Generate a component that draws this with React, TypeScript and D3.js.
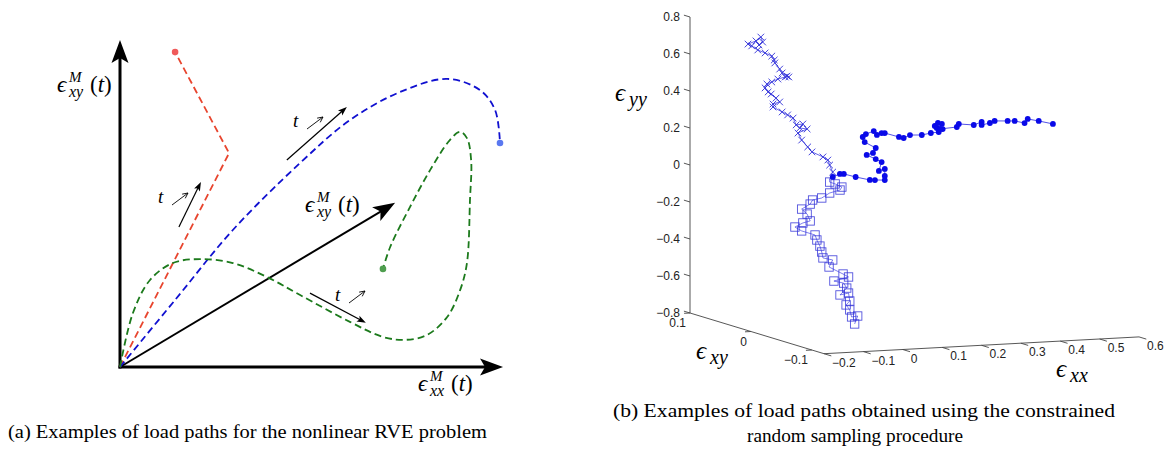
import React from "react";
import * as d3 from "d3";

// ---------- Panel (a): schematic load paths (normalized strain units) ----------
const redPath: [number, number][] = [[0, 0], [0.287, 0.654], [0.145, 0.963]];
const bluePath: [number, number][] = [
  [0, 0], [0.145, 0.205], [0.297, 0.419], [0.474, 0.624], [0.605, 0.755],
  [0.737, 0.841], [0.861, 0.881], [0.947, 0.847], [0.987, 0.786], [1.0, 0.685],
];
const greenPath: [number, number][] = [
  [0, 0], [0.034, 0.165], [0.079, 0.266], [0.139, 0.318], [0.211, 0.33], [0.297, 0.318],
  [0.387, 0.275], [0.474, 0.22], [0.605, 0.138], [0.692, 0.092], [0.75, 0.083],
  [0.808, 0.098], [0.861, 0.153], [0.895, 0.235], [0.913, 0.318], [0.921, 0.511],
  [0.924, 0.633], [0.913, 0.7], [0.895, 0.719], [0.868, 0.694], [0.816, 0.602],
  [0.763, 0.489], [0.711, 0.367], [0.692, 0.3],
];
const timeArrowFrom: [number, number][] = [[0.155, 0.428], [0.439, 0.633], [0.5, 0.226]];
const timeArrowTo: [number, number][] = [[0.213, 0.566], [0.597, 0.795], [0.647, 0.135]];
const axisTipX: [number, number] = [1.008, 0];
const axisTipY: [number, number] = [0, 1];
const axisTipD: [number, number] = [0.724, 0.502];

// ---------- Panel (b): sampled load paths [eps_xx, eps_xy, eps_yy] ----------
const dotPath: [number, number, number][] = [
  [0, 0, 0], [0.008, 0, 0.012], [0.026, 0, 0.026], [0.036, 0, 0.025], [0.066, 0, 0.005],
  [0.102, 0, -0.015], [0.115, 0, -0.017], [0.14, 0, -0.02], [0.14, 0, 0.002], [0.14, 0, 0.04],
  [0.125, 0, 0.031], [0.132, 0, 0.078], [0.117, 0, 0.096], [0.094, 0, 0.121], [0.11, 0, 0.13],
  [0.117, 0, 0.156], [0.089, 0, 0.191], [0.084, 0, 0.219], [0.092, 0, 0.234], [0.112, 0, 0.248],
  [0.12, 0, 0.226], [0.132, 0, 0.235], [0.14, 0, 0.234], [0.176, 0, 0.209], [0.188, 0, 0.202],
  [0.204, 0, 0.216], [0.234, 0, 0.213], [0.257, 0, 0.221], [0.277, 0, 0.224], [0.287, 0, 0.239],
  [0.272, 0, 0.246], [0.267, 0, 0.258], [0.275, 0, 0.273], [0.285, 0, 0.267], [0.28, 0, 0.24],
  [0.323, 0, 0.246], [0.328, 0, 0.262], [0.366, 0, 0.252], [0.386, 0, 0.266], [0.386, 0, 0.25],
  [0.407, 0, 0.258], [0.419, 0, 0.268], [0.452, 0, 0.264], [0.47, 0, 0.262], [0.495, 0, 0.248],
  [0.503, 0, 0.269], [0.531, 0, 0.255], [0.567, 0, 0.235],
];
const crossPath: [number, number, number][] = [
  [0, 0, 0], [0, -0.005, 0.044], [0, 0.0, 0.077], [0, 0.003, 0.101], [0, 0.011, 0.11],
  [0, 0.029, 0.119], [0, 0.036, 0.139], [0, 0.046, 0.166], [0, 0.052, 0.198], [0, 0.037, 0.235],
  [0, 0.049, 0.228], [0, 0.044, 0.255], [0, 0.055, 0.239], [0, 0.06, 0.271], [0, 0.069, 0.279],
  [0, 0.078, 0.286], [0, 0.093, 0.298], [0, 0.093, 0.314], [0, 0.082, 0.336], [0, 0.088, 0.351],
  [0, 0.096, 0.365], [0, 0.101, 0.371], [0, 0.106, 0.388], [0, 0.103, 0.412], [0, 0.095, 0.431],
  [0, 0.085, 0.457], [0, 0.073, 0.48], [0, 0.067, 0.486], [0, 0.07, 0.488], [0, 0.078, 0.497],
  [0, 0.082, 0.514], [0, 0.09, 0.539], [0, 0.091, 0.554], [0, 0.095, 0.571], [0, 0.106, 0.577],
  [0, 0.118, 0.581], [0, 0.128, 0.593], [0, 0.134, 0.597], [0, 0.121, 0.627], [0, 0.113, 0.656],
  [0, 0.11, 0.632], [0, 0.116, 0.61],
];
const squarePath: [number, number, number][] = [
  [0, 0, 0], [0, 0.0, -0.015], [0, -0.009, -0.016], [0, -0.02, -0.022], [0, -0.017, -0.041],
  [0, 0.0, -0.074], [0, 0.013, -0.114], [0, 0.028, -0.14], [0, 0.032, -0.166], [0, 0.046, -0.207],
  [0, 0.037, -0.225], [0, 0.032, -0.257], [0, 0.044, -0.28], [0, 0.057, -0.315], [0, 0.046, -0.325],
  [0, 0.024, -0.325], [0, 0.021, -0.349], [0, 0.016, -0.377], [0, 0.013, -0.406], [0, 0.011, -0.436],
  [0, -0.005, -0.431], [0, 0.001, -0.475], [0, -0.022, -0.49], [0, -0.031, -0.497], [0, -0.007, -0.543],
  [0, -0.023, -0.538], [0, -0.028, -0.56], [0, -0.017, -0.608], [0, -0.031, -0.584], [0, -0.033, -0.625],
  [0, -0.027, -0.652], [0, -0.033, -0.673], [0, -0.036, -0.708], [0, -0.046, -0.693], [0, -0.041, -0.741],
];
const yyTicks = [-0.8, -0.6, -0.4, -0.2, 0, 0.2, 0.4, 0.6, 0.8];
const xyTicks = [-0.1, 0, 0.1];
const xxTicks = [-0.2, -0.1, 0, 0.1, 0.2, 0.3, 0.4, 0.5, 0.6];
const XX_DOMAIN: [number, number] = [-0.2, 0.6];
const XY_DOMAIN: [number, number] = [0.1, -0.12];
const YY_DOMAIN: [number, number] = [-0.8, 0.8];

// ---------- scales ----------
const lx = d3.scaleLinear().domain([0, 1]).range([120, 500]);
const ly = d3.scaleLinear().domain([0, 1]).range([367, 40]);

const zY = d3.scaleLinear().domain(YY_DOMAIN).range([313, 17]);
const xxSX = d3.scaleLinear().domain(XX_DOMAIN).range([0, 315]);
const xxSY = d3.scaleLinear().domain(XX_DOMAIN).range([0, -16.8]);
const xySX = d3.scaleLinear().domain(XY_DOMAIN).range([0, 134]);
const xySY = d3.scaleLinear().domain(XY_DOMAIN).range([0, 40.7]);
const BACK_X = 690;
const P = (xx: number, xy: number, yy: number): [number, number] => [
  BACK_X + xxSX(xx) + xySX(xy),
  zY(yy) + xxSY(xx) + xySY(xy),
];

const serif = "'Liberation Serif', 'DejaVu Serif', serif";
const sans = "'Liberation Sans', Arial, sans-serif";

function headPath(tip: [number, number], from: [number, number], len: number, hw: number, notch: number) {
  const dx = tip[0] - from[0], dy = tip[1] - from[1];
  const L = Math.hypot(dx, dy);
  const ux = dx / L, uy = dy / L;
  const px = -uy, py = ux;
  const bx = tip[0] - len * ux, by = tip[1] - len * uy;
  const nx = tip[0] - (len - notch) * ux, ny = tip[1] - (len - notch) * uy;
  return `M${tip[0]},${tip[1]}L${bx + hw * px},${by + hw * py}L${nx},${ny}L${bx - hw * px},${by - hw * py}Z`;
}
function shorten(tip: [number, number], from: [number, number], d: number): [number, number] {
  const dx = tip[0] - from[0], dy = tip[1] - from[1];
  const L = Math.hypot(dx, dy);
  return [tip[0] - (dx / L) * d, tip[1] - (dy / L) * d];
}

const fmt = (v: number) => (Math.abs(v) < 1e-9 ? "0" : (v < 0 ? "\u2212" : "") + Math.abs(v).toFixed(1));

function EpsLabel({ x, y, sub }: { x: number; y: number; sub: string }) {
  return (
    <g fontFamily={serif} fill="#000">
      <text x={x} y={y} fontSize={23} fontStyle="italic">ϵ</text>
      <text x={x + 12} y={y - 10} fontSize={15} fontStyle="italic">M</text>
      <text x={x + 12} y={y + 5} fontSize={16} fontStyle="italic">{sub}</text>
      <text x={x + 33} y={y} fontSize={23}>(<tspan fontStyle="italic">t</tspan>)</text>
    </g>
  );
}

function TLabel({ x, y }: { x: number; y: number }) {
  const ax = x + 14, ay = y + 2, bx = x + 30, by = y - 10;
  const ang = Math.atan2(by - ay, bx - ax);
  const h1 = [bx - 6 * Math.cos(ang - 0.45), by - 6 * Math.sin(ang - 0.45)];
  const h2 = [bx - 6 * Math.cos(ang + 0.45), by - 6 * Math.sin(ang + 0.45)];
  return (
    <g>
      <text x={x} y={y} fontFamily={serif} fontStyle="italic" fontSize={19}>t</text>
      <path d={`M${ax},${ay}L${bx},${by}M${h1[0]},${h1[1]}L${bx},${by}L${h2[0]},${h2[1]}`} stroke="#000" strokeWidth={0.9} fill="none" />
    </g>
  );
}

function PanelA() {
  const curve = d3.line<[number, number]>().x((d) => lx(d[0])).y((d) => ly(d[1])).curve(d3.curveCatmullRom.alpha(0.5));
  const straight = d3.line<[number, number]>().x((d) => lx(d[0])).y((d) => ly(d[1]));
  const o: [number, number] = [lx(0), ly(0)];
  const tx: [number, number] = [lx(axisTipX[0]), ly(axisTipX[1])];
  const ty: [number, number] = [lx(axisTipY[0]), ly(axisTipY[1])];
  const td: [number, number] = [lx(axisTipD[0]), ly(axisTipD[1])];
  const dash = "7,4";
  const last = (a: [number, number][]) => a[a.length - 1];
  const tLabels: [number, number][] = [[158, 203], [293, 127], [335, 301]];
  return (
    <g>
      {/* axes */}
      <line x1={o[0]} y1={o[1] + 1.5} x2={ty[0]} y2={shorten(ty, o, 16)[1]} stroke="#000" strokeWidth={3} />
      <path d={headPath(ty, o, 23, 8.5, 5)} fill="#000" />
      <line x1={o[0] - 1.5} y1={o[1]} x2={shorten(tx, o, 16)[0]} y2={o[1]} stroke="#000" strokeWidth={3} />
      <path d={headPath(tx, o, 23, 8.5, 5)} fill="#000" />
      <line x1={o[0]} y1={o[1]} x2={shorten(td, o, 14)[0]} y2={shorten(td, o, 14)[1]} stroke="#000" strokeWidth={2} />
      <path d={headPath(td, o, 22, 8, 5)} fill="#000" />

      {/* load paths */}
      <path d={straight(redPath) || ""} fill="none" stroke="#e8452e" strokeWidth={1.8} strokeDasharray={dash} />
      <path d={curve(bluePath) || ""} fill="none" stroke="#1010d0" strokeWidth={1.8} strokeDasharray={dash} />
      <path d={curve(greenPath) || ""} fill="none" stroke="#1c7a1c" strokeWidth={1.8} strokeDasharray={dash} />
      <circle cx={lx(last(redPath)[0])} cy={ly(last(redPath)[1])} r={3.3} fill="#f05a5a" />
      <circle cx={lx(last(bluePath)[0])} cy={ly(last(bluePath)[1])} r={3.3} fill="#5a78f0" />
      <circle cx={lx(last(greenPath)[0])} cy={ly(last(greenPath)[1])} r={3.3} fill="#4f9e4f" />

      {/* time arrows */}
      {timeArrowFrom.map((f, i) => {
        const a: [number, number] = [lx(f[0]), ly(f[1])];
        const b: [number, number] = [lx(timeArrowTo[i][0]), ly(timeArrowTo[i][1])];
        const s = shorten(b, a, 6);
        return (
          <g key={i}>
            <line x1={a[0]} y1={a[1]} x2={s[0]} y2={s[1]} stroke="#000" strokeWidth={1.2} />
            <path d={headPath(b, a, 9, 3.2, 2)} fill="#000" />
          </g>
        );
      })}
      {tLabels.map((p, i) => <TLabel key={i} x={p[0]} y={p[1]} />)}

      <EpsLabel x={57} y={92} sub="xy" />
      <EpsLabel x={305} y={212} sub="xy" />
      <EpsLabel x={418} y={391} sub="xx" />

      <text x={8} y={438} fontFamily={serif} fontSize={19} textLength={479} lengthAdjust="spacingAndGlyphs">
        (a) Examples of load paths for the nonlinear RVE problem
      </text>
    </g>
  );
}

function PanelB() {
  const axisCol = "#444";
  const c0 = P(XX_DOMAIN[0], XY_DOMAIN[0], YY_DOMAIN[0]);
  const cTop = P(XX_DOMAIN[0], XY_DOMAIN[0], YY_DOMAIN[1]);
  const c1 = P(XX_DOMAIN[0], XY_DOMAIN[1], YY_DOMAIN[0]);
  const c2 = P(XX_DOMAIN[1], XY_DOMAIN[1], YY_DOMAIN[0]);
  const line3 = d3.line<[number, number, number]>().x((d) => P(d[0], d[1], d[2])[0]).y((d) => P(d[0], d[1], d[2])[1]);
  const col = "#1a1ae0";
  return (
    <g>
      {/* box axes */}
      <line x1={c0[0]} y1={c0[1]} x2={cTop[0]} y2={cTop[1]} stroke={axisCol} strokeWidth={0.9} />
      <line x1={c0[0]} y1={c0[1]} x2={c1[0]} y2={c1[1]} stroke={axisCol} strokeWidth={0.9} />
      <line x1={c1[0]} y1={c1[1]} x2={c2[0]} y2={c2[1]} stroke={axisCol} strokeWidth={0.9} />

      {yyTicks.map((v) => {
        const p = P(XX_DOMAIN[0], XY_DOMAIN[0], v);
        const q = P(XX_DOMAIN[0], XY_DOMAIN[0] + 0.01, v);
        return (
          <g key={"z" + v}>
            <line x1={p[0]} y1={p[1]} x2={q[0]} y2={q[1]} stroke={axisCol} strokeWidth={0.9} />
            <text x={p[0] - 10} y={p[1] + 4} textAnchor="end" fontFamily={sans} fontSize={12} fill="#222">{fmt(v)}</text>
          </g>
        );
      })}
      {xyTicks.map((v) => {
        const p = P(XX_DOMAIN[0], v, YY_DOMAIN[0]);
        const q = P(XX_DOMAIN[0] - 0.015, v, YY_DOMAIN[0]);
        return (
          <g key={"y" + v}>
            <line x1={p[0]} y1={p[1]} x2={q[0]} y2={q[1]} stroke={axisCol} strokeWidth={0.9} />
            <text x={p[0] - 4} y={p[1] + 14} textAnchor="end" fontFamily={sans} fontSize={12} fill="#222">{fmt(v)}</text>
          </g>
        );
      })}
      {xxTicks.map((v) => {
        const p = P(v, XY_DOMAIN[1], YY_DOMAIN[0]);
        const q = P(v, XY_DOMAIN[1] - 0.012, YY_DOMAIN[0]);
        return (
          <g key={"x" + v}>
            <line x1={p[0]} y1={p[1]} x2={q[0]} y2={q[1]} stroke={axisCol} strokeWidth={0.9} />
            <text x={p[0] + 8} y={p[1] + 13} textAnchor="start" fontFamily={sans} fontSize={12} fill="#222">{fmt(v)}</text>
          </g>
        );
      })}

      {/* axis labels */}
      <g fontFamily={serif} fontStyle="italic" fill="#000">
        <text x={615} y={101} fontSize={25}>ϵ</text>
        <text x={629} y={106} fontSize={20}>yy</text>
        <text x={696} y={359} fontSize={25}>ϵ</text>
        <text x={710} y={364} fontSize={20}>xy</text>
        <text x={1056} y={377} fontSize={25}>ϵ</text>
        <text x={1070} y={382} fontSize={20}>xx</text>
      </g>

      {/* paths */}
      <path d={line3(squarePath) || ""} fill="none" stroke={col} strokeWidth={0.7} opacity={0.8} />
      {squarePath.slice(1).map((d, i) => {
        const p = P(d[0], d[1], d[2]);
        return <rect key={"s" + i} x={p[0] - 4.2} y={p[1] - 4.2} width={8.4} height={8.4} fill="none" stroke="#3434d8" strokeWidth={0.9} opacity={0.85} />;
      })}
      <path d={line3(crossPath) || ""} fill="none" stroke={col} strokeWidth={0.8} opacity={0.85} />
      {crossPath.slice(1).map((d, i) => {
        const p = P(d[0], d[1], d[2]);
        return <path key={"c" + i} d={`M${p[0] - 3.3},${p[1] - 3.3}L${p[0] + 3.3},${p[1] + 3.3}M${p[0] - 3.3},${p[1] + 3.3}L${p[0] + 3.3},${p[1] - 3.3}`} stroke="#3030d8" strokeWidth={0.9} />;
      })}
      <path d={line3(dotPath) || ""} fill="none" stroke={col} strokeWidth={0.9} opacity={0.85} />
      {dotPath.slice(1).map((d, i) => {
        const p = P(d[0], d[1], d[2]);
        return <circle key={"d" + i} cx={p[0]} cy={p[1]} r={2.9} fill="#0a0ae8" />;
      })}

      <text x={613} y={417} fontFamily={serif} fontSize={19} textLength={502} lengthAdjust="spacingAndGlyphs">
        (b) Examples of load paths obtained using the constrained
      </text>
      <text x={747} y={442} fontFamily={serif} fontSize={19} textLength={216} lengthAdjust="spacingAndGlyphs">
        random sampling procedure
      </text>
    </g>
  );
}

export default function App() {
  return (
    <svg width={1170} height={459} viewBox="0 0 1170 459" style={{ position: "absolute", left: 0, top: 0, background: "#fff" }}>
      <rect x={0} y={0} width={1170} height={459} fill="#fff" />
      <PanelA />
      <PanelB />
    </svg>
  );
}
